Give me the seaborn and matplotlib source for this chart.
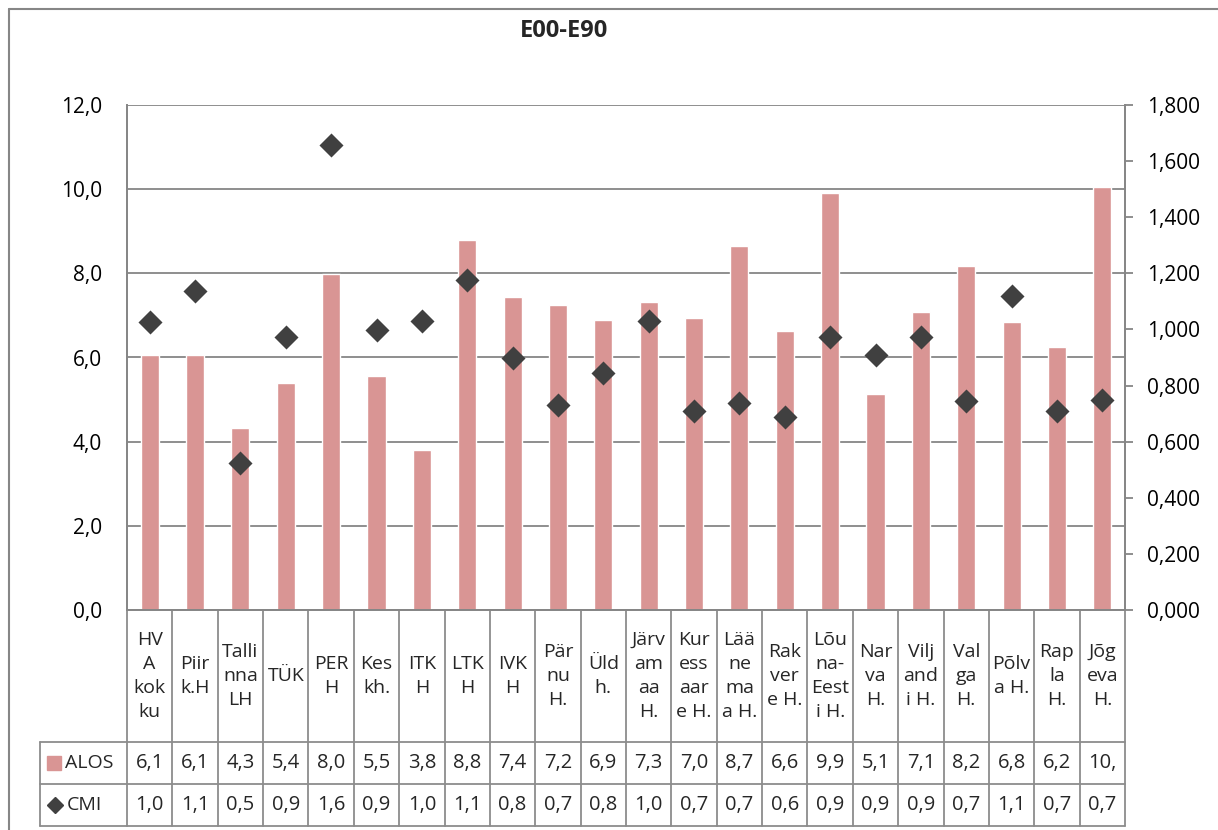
import numpy as np
import matplotlib
matplotlib.use("Agg")
import matplotlib.pyplot as plt
import matplotlib.transforms as mtransforms
from matplotlib.lines import Line2D
from matplotlib.ticker import FuncFormatter, MultipleLocator
import seaborn as sns

# --- data ---
categories = ["HV\nA\nkok\nku", "Piir\nk.H", "Talli\nnna\nLH", "TÜK", "PER\nH",
              "Kes\nkh.", "ITK\nH", "LTK\nH", "IVK\nH", "Pär\nnu\nH.", "Üld\nh.",
              "Järv\nam\naa\nH.", "Kur\ness\naar\ne H.", "Lää\nne\nma\na H.",
              "Rak\nver\ne H.", "Lõu\nna-\nEest\ni H.", "Nar\nva\nH.", "Vilj\nand\ni H.",
              "Val\nga\nH.", "Põlv\na H.", "Rap\nla\nH.", "Jõg\neva\nH."]
alos = [6.06, 6.07, 4.33, 5.39, 7.98, 5.55, 3.81, 8.80, 7.44, 7.25, 6.90,
        7.32, 6.95, 8.66, 6.62, 9.90, 5.13, 7.08, 8.18, 6.84, 6.24, 10.05]
cmi = [1.026, 1.137, 0.524, 0.973, 1.657, 0.998, 1.030, 1.176, 0.898, 0.731, 0.845,
       1.030, 0.709, 0.738, 0.688, 0.973, 0.909, 0.973, 0.745, 1.119, 0.709, 0.748]
series_names = ["ALOS", "CMI"]

BAR = "#D99594"
MARK = "#404040"
GRID = "#868686"

sns.set_style("white")
plt.rcParams["font.family"] = ["Open Sans", "DejaVu Sans"]

W, H = 1218, 830
fig = plt.figure(figsize=(W / 100, H / 100), dpi=100)

# plot area in pixels: x 127..1125, y 105..610
ax = fig.add_axes([127 / W, 1 - 610 / H, 998 / W, 505 / H])
n = len(categories)
x = np.arange(n)

sns.barplot(x=x, y=alos, color=BAR, width=0.4, saturation=1, ax=ax)
ax.set_xlim(-0.5, n - 0.5)
ax.set_ylim(0, 12)
ax.yaxis.set_major_locator(MultipleLocator(2))
ax.yaxis.set_major_formatter(FuncFormatter(lambda v, p: f"{v:.1f}".replace(".", ",")))
ax.grid(axis="y", color=GRID, lw=1.3)
ax.set_axisbelow(True)
ax.set_xticks([])
ax.set_xlabel("")
ax.tick_params(axis="y", length=0, pad=18, labelsize=15, labelcolor="black")
for side, sp in ax.spines.items():
    sp.set_color(GRID)
    sp.set_linewidth(1.3)
ax.spines["top"].set_visible(False)

ax2 = ax.twinx()
sns.scatterplot(x=x, y=cmi, marker="D", s=150, color=MARK, edgecolor=MARK,
                linewidth=0, ax=ax2, zorder=5)
ax2.set_xlim(-0.5, n - 0.5)
ax2.set_ylim(0, 1.8)
ax2.yaxis.set_major_locator(MultipleLocator(0.2))
ax2.yaxis.set_major_formatter(FuncFormatter(lambda v, p: f"{v:.3f}".replace(".", ",")))
ax2.tick_params(axis="y", direction="out", length=6, width=1.3, color=GRID,
                pad=10, labelsize=15, labelcolor="black")
for sp in ax2.spines.values():
    sp.set_color(GRID)
    sp.set_linewidth(1.3)
ax2.spines["top"].set_visible(False)

# --- data table under the axis ---
blend = mtransforms.blended_transform_factory(ax.transData, ax.transAxes)
y_hdr_bot = (610 - 742) / 505
y_mid = (610 - 784) / 505
y_bot = (610 - 826) / 505
x_lab = (40 - 127) / 998
tcol = "#8C8C8C"

for i in range(n + 1):
    ax.add_line(Line2D([i - 0.5, i - 0.5], [0, y_bot], transform=blend,
                       color=tcol, lw=1.3, clip_on=False))
for yy in (y_hdr_bot, y_mid, y_bot):
    ax.add_line(Line2D([x_lab, 1], [yy, yy], transform=ax.transAxes,
                       color=tcol, lw=1.3, clip_on=False))
ax.add_line(Line2D([x_lab, x_lab], [y_hdr_bot, y_bot], transform=ax.transAxes,
                   color=tcol, lw=1.3, clip_on=False))

y_hdr_c = (610 - 676) / 505
y_r1 = (610 - 763) / 505
y_r2 = (610 - 805) / 505
for i, lab in enumerate(categories):
    ax.text(i, y_hdr_c, lab, transform=blend, ha="center", va="center",
            fontsize=14, linespacing=1.45, clip_on=False)
    ax.text(i, y_r1, f"{alos[i]:.1f}".replace(".", ",")[:3], transform=blend,
            ha="center", va="center", fontsize=14.5, clip_on=False)
    ax.text(i, y_r2, f"{cmi[i]:.3f}".replace(".", ",")[:3], transform=blend,
            ha="center", va="center", fontsize=14.5, clip_on=False)

# legend keys in the table
ax.plot([(54 - 127) / 998], [y_r1], marker="s", ms=10, color=BAR,
        transform=ax.transAxes, clip_on=False)
ax.plot([(55 - 127) / 998], [y_r2], marker="D", ms=8, color=MARK,
        transform=ax.transAxes, clip_on=False)
ax.text((65 - 127) / 998, y_r1, series_names[0], transform=ax.transAxes,
        ha="left", va="center", fontsize=14)
ax.text((67 - 127) / 998, y_r2, series_names[1], transform=ax.transAxes,
        ha="left", va="center", fontsize=14)

# outer chart frame and title
fig.add_artist(Line2D([9 / W, 9 / W], [0, 1 - 9 / H], color=GRID, lw=1.5))
fig.add_artist(Line2D([9 / W, 1], [1 - 9 / H, 1 - 9 / H], color=GRID, lw=1.5))
fig.text(564 / W, 1 - 31 / H, "E00-E90", ha="center", va="center",
         fontsize=17, fontweight="bold")

fig.savefig("out.png", dpi=100)
